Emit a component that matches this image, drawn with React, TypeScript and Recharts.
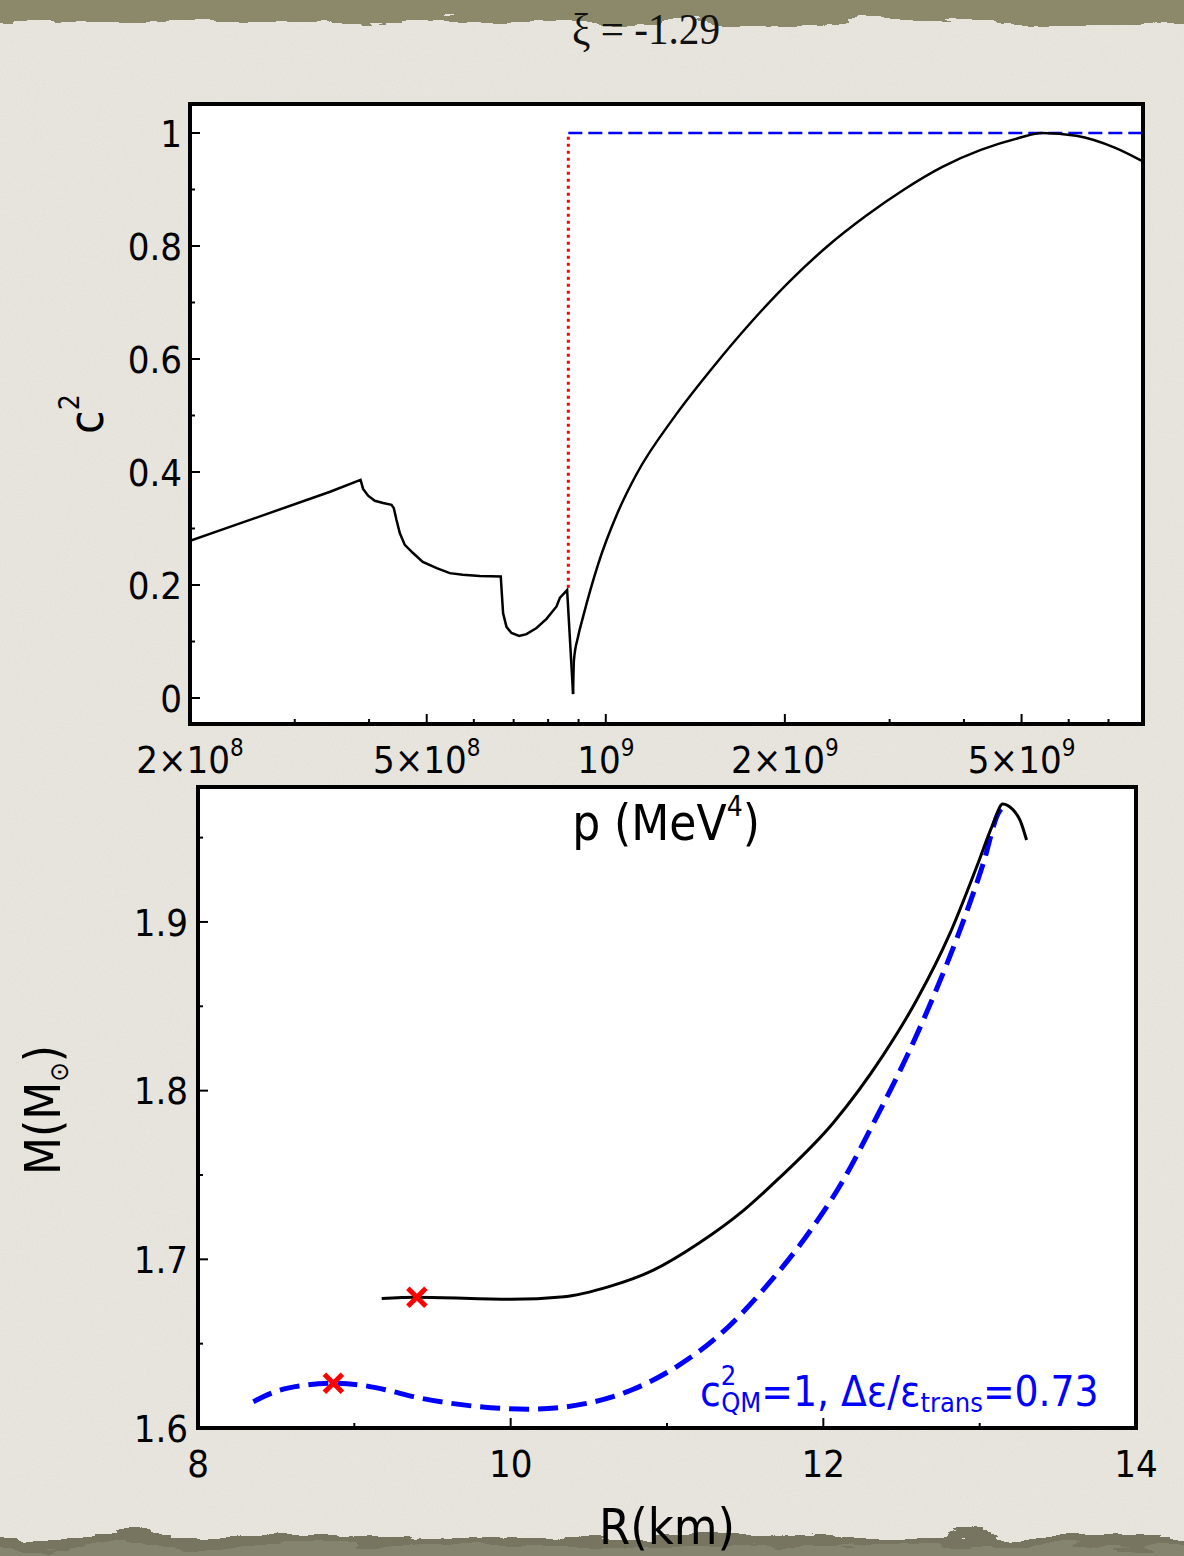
import React from 'react';
import { ComposedChart, Line, Scatter, XAxis, YAxis } from 'recharts';

const FONT = "'DejaVu Sans Condensed', 'DejaVu Sans', sans-serif";
const SERIF = "'Liberation Serif', 'Times New Roman', serif";
const BLUE = '#0000ff';
const RED = '#ff0000';

// ---- top panel: sound speed squared vs pressure ----
const pLow = [
  2.0e8, 3.44e8, 3.87e8, 3.909e8, 3.985e8, 4.09e8, 4.224e8, 4.363e8, 4.402e8, 4.448e8,
  4.505e8, 4.593e8, 4.737e8, 4.924e8, 5.198e8, 5.467e8, 5.749e8, 6.14e8, 6.66e8, 6.686e8,
  6.72e8, 6.809e8, 6.942e8, 7.15e8, 7.357e8, 7.648e8, 7.95e8, 8.264e8, 8.37e8, 8.61e8, 8.811e8,
];
const c2Low = [
  0.278, 0.365, 0.386, 0.37, 0.358, 0.349, 0.345, 0.342, 0.336, 0.315,
  0.292, 0.271, 0.257, 0.241, 0.23, 0.221, 0.218, 0.216, 0.215, 0.186,
  0.15, 0.126, 0.115, 0.11, 0.113, 0.124, 0.14, 0.162, 0.177, 0.191, 0.007,
];
const pHigh = [
  8.811e8, 8.84e8, 8.98e8, 9.16e8, 9.71e8, 1.045e9, 1.126e9, 1.305e9, 1.513e9, 1.755e9,
  2.035e9, 2.361e9, 2.735e9, 3.173e9, 3.68e9, 4.27e9, 4.945e9, 5.41e9, 6.18e9, 7.17e9, 7.95e9,
];
const c2High = [
  0.007, 0.067, 0.108, 0.144, 0.237, 0.326, 0.396, 0.498, 0.585, 0.665,
  0.737, 0.8, 0.853, 0.9, 0.94, 0.97, 0.991, 1.0, 0.995, 0.974, 0.951,
];
const causalP = [8.65e8, 8e9];
const causalC2 = [1, 1];
const transP = [8.65e8, 8.65e8];
const transC2 = [0.195, 1];

const pMajorTicks = [2e8, 5e8, 1e9, 2e9, 5e9];
const pTickLabels = [
  ['2×10', '8'],
  ['5×10', '8'],
  ['10', '9'],
  ['2×10', '9'],
  ['5×10', '9'],
];
const pMinorTicks = [3e8, 4e8, 6e8, 7e8, 8e8, 9e8, 3e9, 4e9, 6e9, 7e9];
const c2MajorTicks = [0, 0.2, 0.4, 0.6, 0.8, 1];
const c2TickLabels = ['0', '0.2', '0.4', '0.6', '0.8', '1'];
const c2MinorTicks = [0.1, 0.3, 0.5, 0.7, 0.9];

// ---- bottom panel: mass-radius ----
const rHadronic = [
  9.175, 9.4, 10.0, 10.342, 10.629, 10.916, 11.203, 11.49, 11.71, 12.064,
  12.384, 12.597, 12.81, 12.981, 13.087, 13.147, 13.215, 13.258, 13.3,
];
const mHadronic = [
  1.6767, 1.6775, 1.6763, 1.6778, 1.6838, 1.6937, 1.7095, 1.729, 1.7475, 1.781,
  1.8212, 1.8537, 1.8932, 1.9327, 1.9584, 1.9699, 1.9663, 1.9604, 1.9486,
];
const rHybrid = [
  8.354, 8.525, 8.695, 8.866, 9.036, 9.207, 9.377, 9.591, 9.804, 10.113,
  10.486, 10.773, 11.06, 11.347, 11.633, 11.92, 12.128, 12.32, 12.533, 12.704,
  12.874, 13.023, 13.119, 13.16,
];
const mHybrid = [
  1.6156, 1.6225, 1.6255, 1.6265, 1.6255, 1.6225, 1.6186, 1.615, 1.6126, 1.6111,
  1.6146, 1.6225, 1.6363, 1.6561, 1.6838, 1.7174, 1.747, 1.7806, 1.8201, 1.8557,
  1.8952, 1.9347, 1.9644, 1.969,
];
const rMarkers = [9.4, 8.866];
const mMarkers = [1.6775, 1.6265];

const rMajorTicks = [8, 10, 12, 14];
const rTickLabels = ['8', '10', '12', '14'];
const rMinorTicks = [9, 11, 13];
const mMajorTicks = [1.6, 1.7, 1.8, 1.9];
const mTickLabels = ['1.6', '1.7', '1.8', '1.9'];
const mMinorTicks = [1.65, 1.75, 1.85, 1.95];

const lowData = pLow.map((p, i) => ({ p, c2: c2Low[i] }));
const highData = pHigh.map((p, i) => ({ p, c2: c2High[i] }));
const causalData = causalP.map((p, i) => ({ p, c2: causalC2[i] }));
const transData = transP.map((p, i) => ({ p, c2: transC2[i] }));
const hadronicData = rHadronic.map((R, i) => ({ R, M: mHadronic[i] }));
const hybridData = rHybrid.map((R, i) => ({ R, M: mHybrid[i] }));
const markerData = rMarkers.map((R, i) => ({ R, M: mMarkers[i] }));

const sorted = (a: number[], b: number[]) => [...a, ...b].sort((x, y) => x - y);
const findMajor = (list: number[], v: number) =>
  list.findIndex((m) => Math.abs(m - v) <= 1e-9 * Math.max(1, Math.abs(m)));

const TICK_FS = 38;
const AXIS_H = 60; // space reserved for the x axes (ticks drawn via custom renderer)
const AXIS_W = 80;

function makeXTick(majors: number[], labels: (string | string[])[]) {
  return (props: any) => {
    const { x, y, payload } = props;
    const idx = findMajor(majors, payload.value);
    const major = idx >= 0;
    const lab = major ? labels[idx] : null;
    return (
      <g>
        <line x1={x} x2={x} y1={y} y2={y - (major ? 10 : 5)} stroke="#000" strokeWidth={2} />
        {lab !== null && (
          <text x={x} y={y + 49} textAnchor="middle" fontFamily={FONT} fontSize={TICK_FS} fill="#000">
            {Array.isArray(lab) ? (
              <>
                <tspan>{lab[0]}</tspan>
                <tspan fontSize={24} dy={-17}>
                  {lab[1]}
                </tspan>
              </>
            ) : (
              lab
            )}
          </text>
        )}
      </g>
    );
  };
}

function makeYTick(majors: number[], labels: string[], gap: number) {
  return (props: any) => {
    const { x, y, payload } = props;
    const idx = findMajor(majors, payload.value);
    const major = idx >= 0;
    return (
      <g>
        <line x1={x} x2={x + (major ? 10 : 5)} y1={y} y2={y} stroke="#000" strokeWidth={2} />
        {major && (
          <text x={x - gap} y={y} dy="0.36em" textAnchor="end" fontFamily={FONT} fontSize={TICK_FS} fill="#000">
            {labels[idx]}
          </text>
        )}
      </g>
    );
  };
}

const XMark = (props: any) => {
  const { cx, cy } = props;
  const s = 9;
  return (
    <g stroke={RED} strokeWidth={5}>
      <line x1={cx - s} y1={cy - s} x2={cx + s} y2={cy + s} />
      <line x1={cx - s} y1={cy + s} x2={cx + s} y2={cy - s} />
    </g>
  );
};

const abs = (l: number, t: number, w: number, h: number): React.CSSProperties => ({
  position: 'absolute',
  left: l,
  top: t,
  width: w,
  height: h,
});

export default function App() {
  return (
    <div style={{ position: 'absolute', left: 0, top: 0, width: 1184, height: 1556, overflow: 'hidden' }}>
      {/* paper backdrop */}
      <svg width={1184} height={1556} style={abs(0, 0, 1184, 1556)}>
        <defs>
          <filter id="grain" x="0" y="0" width="100%" height="100%">
            <feTurbulence type="fractalNoise" baseFrequency="0.9" numOctaves={2} seed={4} />
            <feColorMatrix type="matrix" values="0 0 0 0 0.45  0 0 0 0 0.43  0 0 0 0 0.38  0 0 0 0.18 0" />
          </filter>
          <filter id="torn" x="-5%" y="-50%" width="110%" height="200%">
            <feTurbulence type="fractalNoise" baseFrequency="0.012 0.06" numOctaves={4} seed={7} result="n" />
            <feDisplacementMap in="SourceGraphic" in2="n" scale={26} xChannelSelector="R" yChannelSelector="G" />
          </filter>
        </defs>
        <rect width={1184} height={1556} fill="#ebe9e1" />
        <rect width={1184} height={1556} filter="url(#grain)" />
        <rect x={-40} y={-40} width={1264} height={62} fill="#8c886b" filter="url(#torn)" />
        <rect x={-40} y={1536} width={1264} height={80} fill="#777560" filter="url(#torn)" />
        <rect x={-40} y={1546} width={1264} height={80} fill="#85846e" filter="url(#torn)" />
      </svg>

      {/* plot backgrounds */}
      <div style={{ ...abs(190, 104, 953, 620), background: '#fff' }} />
      <div style={{ ...abs(198, 787, 938, 641), background: '#fff' }} />

      {/* bottom panel */}
      <div style={abs(0, 0, 1184, 1556)}>
        <ComposedChart
          width={1184}
          height={1556}
          margin={{ top: 787, right: 48, bottom: 128 - AXIS_H, left: 198 - AXIS_W }}
        >
          <XAxis
            dataKey="R"
            type="number"
            domain={[8, 14]}
            allowDataOverflow
            ticks={sorted(rMajorTicks, rMinorTicks)}
            interval={0}
            height={AXIS_H}
            tickSize={0}
            tickMargin={0}
            axisLine={false}
            tickLine={false}
            tick={makeXTick(rMajorTicks, rTickLabels)}
          />
          <YAxis
            type="number"
            domain={[1.6, 1.98]}
            allowDataOverflow
            ticks={sorted(mMajorTicks, mMinorTicks)}
            interval={0}
            width={AXIS_W}
            tickSize={0}
            tickMargin={0}
            axisLine={false}
            tickLine={false}
            tick={makeYTick(mMajorTicks, mTickLabels, 10)}
          />
          <Line
            data={hybridData}
            dataKey="M"
            type="monotone"
            stroke={BLUE}
            strokeWidth={5}
            strokeDasharray="20 9"
            dot={false}
            isAnimationActive={false}
          />
          <Line
            data={hadronicData}
            dataKey="M"
            type="monotone"
            stroke="#000"
            strokeWidth={3}
            dot={false}
            isAnimationActive={false}
          />
          <Scatter data={markerData} dataKey="M" shape={XMark} isAnimationActive={false} />
        </ComposedChart>
      </div>

      {/* top panel */}
      <div style={abs(0, 0, 1184, 880)}>
        <ComposedChart
          width={1184}
          height={880}
          margin={{ top: 104, right: 41, bottom: 156 - AXIS_H, left: 190 - AXIS_W }}
        >
          <XAxis
            dataKey="p"
            type="number"
            scale="log"
            domain={[2e8, 8e9]}
            allowDataOverflow
            ticks={sorted(pMajorTicks, pMinorTicks)}
            interval={0}
            height={AXIS_H}
            tickSize={0}
            tickMargin={0}
            axisLine={false}
            tickLine={false}
            tick={makeXTick(pMajorTicks, pTickLabels)}
          />
          <YAxis
            type="number"
            domain={[-0.046, 1.0513]}
            allowDataOverflow
            ticks={sorted(c2MajorTicks, c2MinorTicks)}
            interval={0}
            width={AXIS_W}
            tickSize={0}
            tickMargin={0}
            axisLine={false}
            tickLine={false}
            tick={makeYTick(c2MajorTicks, c2TickLabels, 8)}
          />
          <Line
            data={causalData}
            dataKey="c2"
            type="linear"
            stroke={BLUE}
            strokeWidth={2.5}
            strokeDasharray="14 6"
            dot={false}
            isAnimationActive={false}
          />
          <Line
            data={transData}
            dataKey="c2"
            type="linear"
            stroke={RED}
            strokeWidth={3}
            strokeDasharray="3 4"
            dot={false}
            isAnimationActive={false}
          />
          <Line
            data={lowData}
            dataKey="c2"
            type="linear"
            stroke="#000"
            strokeWidth={2.5}
            dot={false}
            isAnimationActive={false}
          />
          <Line
            data={highData}
            dataKey="c2"
            type="monotone"
            stroke="#000"
            strokeWidth={2.5}
            dot={false}
            isAnimationActive={false}
          />
        </ComposedChart>
      </div>

      {/* frames */}
      <div style={{ ...abs(188, 102, 957, 624), border: '4px solid #000', boxSizing: 'border-box' }} />
      <div style={{ ...abs(196, 785, 942, 645), border: '4px solid #000', boxSizing: 'border-box' }} />

      {/* titles and annotation */}
      <svg width={1184} height={1556} style={{ ...abs(0, 0, 1184, 1556), pointerEvents: 'none' }}>
        <text
          x={572}
          y={44}
          fontFamily={SERIF}
          fontSize={44}
          textLength={148}
          lengthAdjust="spacingAndGlyphs"
          fill="#111"
        >
          ξ = -1.29
        </text>
        <text
          x={103}
          y={414}
          textAnchor="middle"
          transform="rotate(-90 103 414)"
          fontFamily={FONT}
          fontSize={48}
          fill="#000"
        >
          c<tspan fontSize={28} dy={-24}>2</tspan>
        </text>
        <text x={666} y={840} textAnchor="middle" fontFamily={FONT} fontSize={49} fill="#000">
          p (MeV<tspan fontSize={28} dy={-24}>4</tspan>
          <tspan dy={24}>)</tspan>
        </text>
        <text
          x={60}
          y={1110}
          textAnchor="middle"
          transform="rotate(-90 60 1110)"
          fontFamily={FONT}
          fontSize={49}
          fill="#000"
        >
          M(M<tspan fontSize={26} dy={8}>⊙</tspan>
          <tspan dy={-8}>)</tspan>
        </text>
        <text x={667} y={1544} textAnchor="middle" fontFamily={FONT} fontSize={50} fill="#000">
          R(km)
        </text>
        <text x={700} y={1406} fontFamily={FONT} fontSize={42} fill={BLUE}>
          c<tspan fontSize={27} dy={-21}>2</tspan>
          <tspan fontSize={27} dx={-15} dy={27}>QM</tspan>
          <tspan dy={-6}>=1, Δε/ε</tspan>
          <tspan fontSize={27} dy={6}>trans</tspan>
          <tspan dy={-6}>=0.73</tspan>
        </text>
      </svg>
    </div>
  );
}
